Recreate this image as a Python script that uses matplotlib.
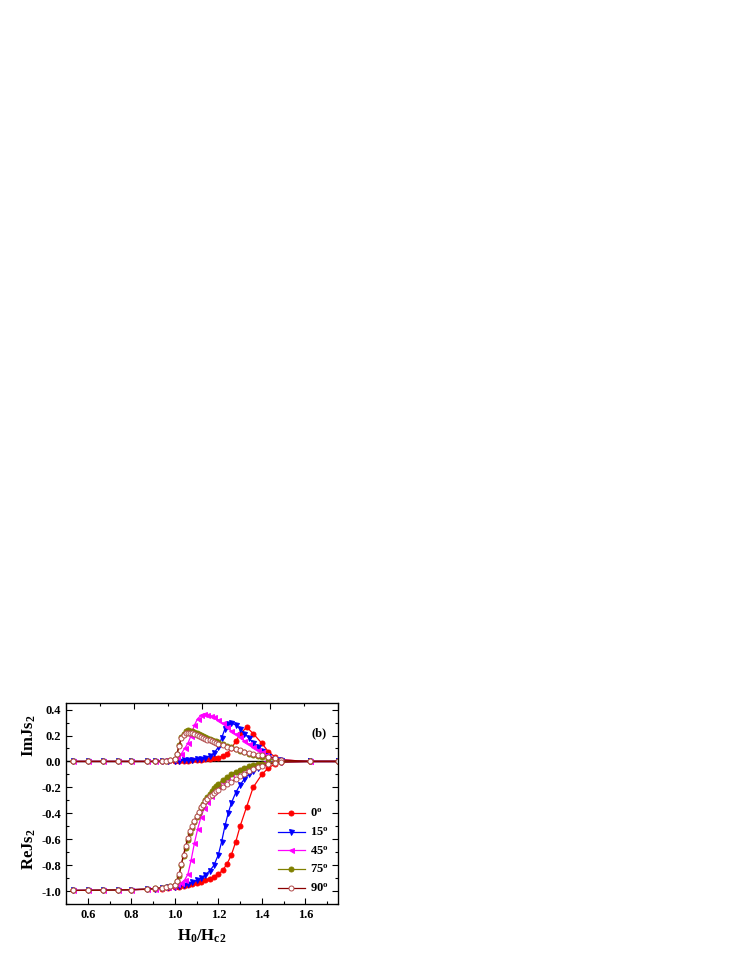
import matplotlib
matplotlib.use('Agg')
import matplotlib.pyplot as plt
from matplotlib.ticker import MultipleLocator

plt.rcParams['font.family'] = ['Liberation Serif', 'DejaVu Serif']
plt.rcParams['font.weight'] = 'bold'
plt.rcParams['mathtext.fontset'] = 'custom'
plt.rcParams['mathtext.rm'] = 'Liberation Serif'
plt.rcParams['mathtext.bf'] = 'Liberation Serif:bold'
plt.rcParams['mathtext.it'] = 'Liberation Serif:italic:bold'

# ---- data ----
x_0 = [0.53, 0.60, 0.67, 0.74, 0.80, 0.87, 0.91, 0.94, 0.97, 1.00, 1.02, 1.04, 1.06, 1.08, 1.10, 1.12, 1.14,
       1.16, 1.18, 1.20, 1.22, 1.24, 1.26, 1.28, 1.30, 1.33, 1.36, 1.40, 1.43, 1.46, 1.49, 1.62, 1.75]
im_0 = [0, 0, 0, 0, 0, 0, 0, 0, 0.001, 0.002, 0.003, 0.004, 0.006, 0.008, 0.01, 0.013, 0.016,
        0.02, 0.025, 0.03, 0.04, 0.06, 0.1, 0.155, 0.21, 0.265, 0.215, 0.14, 0.075, 0.035, 0.012, 0, 0]
re_0 = [-0.995, -0.994, -0.993, -0.992, -0.99, -0.987, -0.985, -0.981, -0.976, -0.97, -0.965, -0.959, -0.953,
        -0.946, -0.938, -0.929, -0.918, -0.905, -0.888, -0.868, -0.84, -0.79, -0.72, -0.62, -0.5, -0.35, -0.2,
        -0.1, -0.05, -0.02, -0.005, 0, 0]

x_15 = [0.53, 0.60, 0.67, 0.74, 0.80, 0.87, 0.91, 0.94, 0.97, 1.00, 1.02, 1.04, 1.06, 1.08, 1.10, 1.12, 1.14,
        1.16, 1.18, 1.20, 1.215, 1.23, 1.245, 1.26, 1.28, 1.30, 1.32, 1.34, 1.36, 1.38, 1.40, 1.43, 1.46, 1.49,
        1.62, 1.75]
im_15 = [0, 0, 0, 0, 0, 0, 0, 0.001, 0.003, 0.005, 0.007, 0.009, 0.011, 0.014, 0.017, 0.022, 0.03, 0.042,
         0.065, 0.11, 0.18, 0.25, 0.29, 0.297, 0.28, 0.25, 0.215, 0.18, 0.145, 0.11, 0.08, 0.045, 0.02, 0.008,
         0, 0]
re_15 = [-0.995, -0.994, -0.993, -0.991, -0.989, -0.986, -0.983, -0.978, -0.972, -0.965, -0.958, -0.95, -0.942,
         -0.932, -0.918, -0.9, -0.875, -0.845, -0.8, -0.72, -0.62, -0.5, -0.4, -0.32, -0.24, -0.18, -0.135,
         -0.1, -0.07, -0.048, -0.03, -0.015, -0.006, -0.002, 0, 0]

x_45 = [0.53, 0.60, 0.67, 0.74, 0.80, 0.87, 0.91, 0.93, 0.95, 0.97, 0.99, 1.01, 1.03, 1.045, 1.06, 1.075,
        1.09, 1.105, 1.12, 1.135, 1.15, 1.165, 1.18, 1.20, 1.22, 1.24, 1.26, 1.28, 1.30, 1.32, 1.34, 1.36,
        1.38, 1.40, 1.42, 1.45, 1.48, 1.62, 1.75]
im_45 = [0, 0, 0, 0, 0, 0, 0.001, 0.004, 0.008, 0.013, 0.02, 0.035, 0.06, 0.1, 0.14, 0.2, 0.28, 0.33, 0.355,
         0.365, 0.36, 0.35, 0.34, 0.32, 0.295, 0.265, 0.235, 0.21, 0.185, 0.16, 0.135, 0.11, 0.09, 0.07, 0.05,
         0.03, 0.012, 0, 0]
re_45 = [-0.995, -0.994, -0.993, -0.991, -0.989, -0.985, -0.981, -0.977, -0.972, -0.966, -0.958, -0.948,
         -0.935, -0.915, -0.87, -0.76, -0.63, -0.52, -0.43, -0.36, -0.31, -0.27, -0.23, -0.19, -0.155, -0.125,
         -0.1, -0.08, -0.062, -0.048, -0.036, -0.027, -0.02, -0.014, -0.01, -0.005, -0.002, 0, 0]

x_75 = [0.53, 0.60, 0.67, 0.74, 0.80, 0.87, 0.91, 0.94, 0.96, 0.98, 1.00, 1.01, 1.02, 1.03, 1.04, 1.05, 1.06,
        1.07, 1.08, 1.09, 1.10, 1.11, 1.12, 1.13, 1.14, 1.15, 1.16, 1.17, 1.18, 1.19, 1.20, 1.22, 1.24, 1.26,
        1.28, 1.30, 1.32, 1.34, 1.36, 1.38, 1.40, 1.43, 1.46, 1.49, 1.62, 1.75]
im_75 = [0, 0, 0, 0, 0, 0, 0, 0.002, 0.004, 0.008, 0.02, 0.06, 0.13, 0.185, 0.215, 0.232, 0.24, 0.238, 0.232,
         0.225, 0.218, 0.21, 0.203, 0.196, 0.189, 0.182, 0.175, 0.168, 0.161, 0.154, 0.147, 0.134, 0.121,
         0.108, 0.095, 0.083, 0.071, 0.06, 0.05, 0.041, 0.033, 0.022, 0.012, 0.005, 0, 0]
re_75 = [-0.995, -0.994, -0.993, -0.991, -0.989, -0.985, -0.98, -0.975, -0.97, -0.962, -0.95, -0.925, -0.88,
         -0.8, -0.73, -0.665, -0.605, -0.555, -0.51, -0.47, -0.43, -0.395, -0.36, -0.33, -0.3, -0.275, -0.25,
         -0.228, -0.208, -0.19, -0.172, -0.143, -0.118, -0.097, -0.079, -0.063, -0.05, -0.039, -0.03, -0.023,
         -0.017, -0.01, -0.005, -0.002, 0, 0]

x_90 = x_75
im_90 = [0, 0, 0, 0, 0, 0, 0, 0.002, 0.004, 0.008, 0.02, 0.06, 0.12, 0.18, 0.207, 0.218, 0.223, 0.222, 0.218,
         0.212, 0.205, 0.198, 0.19, 0.183, 0.176, 0.169, 0.162, 0.155, 0.149, 0.143, 0.137, 0.126, 0.115,
         0.104, 0.094, 0.085, 0.076, 0.067, 0.06, 0.053, 0.046, 0.036, 0.024, 0.012, 0, 0]
re_90 = [-0.995, -0.994, -0.993, -0.991, -0.989, -0.985, -0.98, -0.975, -0.97, -0.962, -0.95, -0.92, -0.87,
         -0.79, -0.72, -0.65, -0.59, -0.54, -0.5, -0.46, -0.42, -0.39, -0.355, -0.333, -0.308, -0.288, -0.27,
         -0.255, -0.242, -0.23, -0.218, -0.196, -0.175, -0.155, -0.135, -0.115, -0.095, -0.077, -0.06, -0.046,
         -0.035, -0.022, -0.011, -0.004, 0, 0]

labels = [r'$\mathbf{0^o}$', r'$\mathbf{15^o}$', r'$\mathbf{45^o}$', r'$\mathbf{75^o}$', r'$\mathbf{90^o}$']

fig = plt.figure(figsize=(7.47, 9.67), dpi=100)
ax = fig.add_axes([0.0884, 0.0651, 0.3641, 0.2078])

series = [
    (x_0, im_0, re_0, '#ff0000', 'o', '#ff0000', '#ff0000'),
    (x_15, im_15, re_15, '#0000ff', 'v', '#0000ff', '#0000ff'),
    (x_45, im_45, re_45, '#ff00ff', '<', '#ff00ff', '#ff00ff'),
    (x_75, im_75, re_75, '#808000', 'o', '#808000', '#808000'),
    (x_90, im_90, re_90, '#8b0000', 'o', 'white', '#b04a4a'),
]

ax.axhline(0, color='black', lw=1.0, zorder=1)
for (xs, im, re, c, m, fc, ec), lab in zip(series, labels):
    ax.plot(xs, im, color=c, lw=0.9, marker=m, ms=3.6, mfc=fc, mec=ec, mew=0.7)
    ax.plot(xs, re, color=c, lw=0.9, marker=m, ms=3.6, mfc=fc, mec=ec, mew=0.7, label=lab)

ax.set_xlim(0.5, 1.75)
ax.set_ylim(-1.1, 0.45)
ax.xaxis.set_minor_locator(MultipleLocator(0.1))
ax.yaxis.set_minor_locator(MultipleLocator(0.1))
ax.tick_params(which='both', direction='in', top=False, right=True, labelsize=9, width=0.8)
ax.tick_params(which='major', length=4)
ax.tick_params(which='minor', length=2)
for sp in ax.spines.values():
    sp.set_linewidth(0.9)

ax.set_xticks([0.6, 0.8, 1.0, 1.2, 1.4, 1.6])
ax.set_xticklabels(['0.6', '0.8', '1.0', '1.2', '1.4', '1.6'])
ax.set_yticks([0.4, 0.2, 0.0, -0.2, -0.4, -0.6, -0.8, -1.0])
ax.set_yticklabels(['0.4', '0.2', '0.0', '-0.2', '-0.4', '-0.6', '-0.8', '-1.0'])

# top axis ticks (separate layer in the original)
top = ax.twiny()
top.set_xlim(0.0, 0.8)
top.xaxis.set_major_locator(MultipleLocator(0.2))
top.xaxis.set_minor_locator(MultipleLocator(0.1))
top.tick_params(which='both', direction='in', labeltop=False, width=0.8)
top.tick_params(which='major', length=4)
top.tick_params(which='minor', length=2)

ax.set_xlabel(r'$\mathbf{H_0/H_{c2}}$', fontsize=12, labelpad=5)
ax.text(-0.135, 0.2, r'$\mathbf{ImJs_2}$', transform=ax.get_yaxis_transform(), rotation=90,
        ha='center', va='center', fontsize=12)
ax.text(-0.135, -0.68, r'$\mathbf{ReJs_2}$', transform=ax.get_yaxis_transform(), rotation=90,
        ha='center', va='center', fontsize=12)
ax.text(1.662, 0.217, '(b)', fontsize=9, fontweight='bold', ha='center', va='center')

ax.legend(loc='lower right', bbox_to_anchor=(0.985, 0.02), frameon=False, fontsize=9,
          handlelength=2.2, handletextpad=0.4, labelspacing=0.5, borderaxespad=0)

plt.savefig('out.png', dpi=100)
